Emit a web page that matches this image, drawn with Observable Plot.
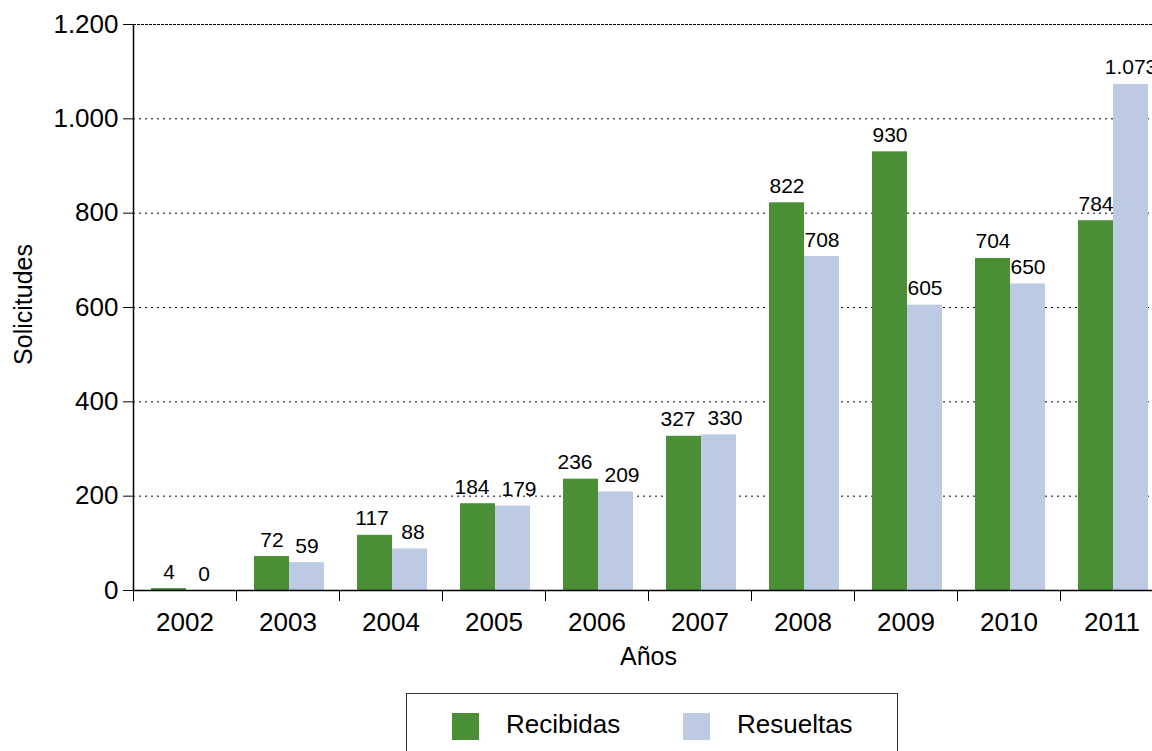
<!DOCTYPE html>
<html>
<head>
<meta charset="utf-8">
<script src="https://cdn.jsdelivr.net/npm/d3@7"></script>
<script src="https://cdn.jsdelivr.net/npm/@observablehq/plot@0.6"></script>
<style>
  html, body { margin: 0; padding: 0; background: #fff; overflow: hidden; width: 1152px; height: 751px; }
  body { font-family: "Liberation Sans", Arial, Helvetica, sans-serif; }
  #wrap { position: relative; width: 1152px; height: 751px; overflow: hidden; }
  #wrap svg { max-width: none !important; }
  #legend { position: absolute; left: 406px; top: 693px; width: 492px; height: 80px; border: 1px solid #333; box-sizing: border-box; }
  .sw { position: absolute; width: 27px; height: 27px; top: 19px; }
  .lt { position: absolute; top: 15px; font-size: 26px; line-height: 30px; color: #000; }
</style>
</head>
<body>
<div id="wrap"></div>
<script>
const years = ["2002","2003","2004","2005","2006","2007","2008","2009","2010","2011"];
const recibidas = [4, 72, 117, 184, 236, 327, 822, 930, 704, 784];
const resueltas = [0, 59, 88, 179, 209, 330, 708, 605, 650, 1073];
const yTicks = [0, 200, 400, 600, 800, 1000, 1200];
const seriesNames = ["Recibidas", "Resueltas"];
const colors = ["#4a8f36", "#bccae4"];

const loc = d3.formatLocale({decimal: ",", thousands: ".", grouping: [3], currency: ["", " €"]});
const fmt = loc.format(",d");

const rec = years.map((y, i) => ({year: y, value: recibidas[i]}));
const res = years.map((y, i) => ({year: y, value: resueltas[i]}));

// simple label collision avoidance: push neighbouring labels apart when they would touch
const labelFont = 21, charW = 0.556 * labelFont, pxPerUnit = 566 / 1200;
const baseDx = [-16, 19];
years.forEach((y, i) => {
  const a = rec[i], b = res[i];
  const wa = fmt(a.value).length * charW, wb = fmt(b.value).length * charW;
  const gap = (baseDx[1] - wb / 2) - (baseDx[0] + wa / 2);
  const vOverlap = Math.abs(a.value - b.value) * pxPerUnit < 22;
  const shift = vOverlap && gap < 12 ? Math.round((12 - gap) / 2) : 0;
  a.dx = baseDx[0] - shift;
  b.dx = baseDx[1] + shift;
});
function labelMarks(data) {
  const groups = d3.group(data, d => d.dx);
  return Array.from(groups, ([dx, rows]) =>
    Plot.text(rows, {x: "year", y: "value", text: d => fmt(d.value), dx, dy: -10, lineAnchor: "bottom", fontSize: labelFont, fill: "#000"}));
}

const chart = Plot.plot({
  width: 1165,
  height: 693,
  marginLeft: 133,
  marginRight: 2,
  marginTop: 24,
  marginBottom: 103,
  style: {fontFamily: "'Liberation Sans', Arial, Helvetica, sans-serif", color: "#000", background: "#fff", overflow: "visible", maxWidth: "none"},
  x: {type: "band", domain: years, padding: 0},
  y: {domain: [0, 1200]},
  marks: [
    Plot.ruleY(yTicks.filter(d => d > 0 && d < 1200), {stroke: "#000", strokeWidth: 1, strokeDasharray: "2,4"}),
    Plot.ruleY([1200], {stroke: "#000", strokeWidth: 1, strokeDasharray: "3,1"}),
    Plot.barY(rec, {x: "year", y: "value", fill: colors[0], insetLeft: 18, insetRight: 50}),
    Plot.barY(res, {x: "year", y: "value", fill: colors[1], insetLeft: 53, insetRight: 15}),
    ...labelMarks(rec),
    ...labelMarks(res),
    Plot.ruleY([0], {stroke: "#000", strokeWidth: 1.5}),
    Plot.ruleX([years[0]], {dx: -51.5, y1: 0, y2: 1200, stroke: "#000", strokeWidth: 1.5}),
    Plot.axisY({ticks: yTicks, tickFormat: fmt, tickSize: 10, tickPadding: 5, fontSize: 26, label: null, stroke: "#000"}),
    Plot.axisX({tickSize: 0, tickPadding: 22, fontSize: 26, label: null}),
    Plot.axisX({tickSize: 11, tickFormat: () => "", dx: -51.5, label: null, stroke: "#000"}),
    Plot.text(["Solicitudes"], {frameAnchor: "left", textAnchor: "middle", rotate: -90, dx: -110, dy: -3, fontSize: 25, fill: "#000"}),
    Plot.text(["Años"], {frameAnchor: "bottom", dy: 74, fontSize: 25, fill: "#000"})
  ]
});

const wrap = document.getElementById("wrap");
wrap.appendChild(chart);
const legend = document.createElement("div");
legend.id = "legend";
const swX = [45, 276];
const txX = [99, 330];
seriesNames.forEach((name, i) => {
  const sw = document.createElement("div");
  sw.className = "sw";
  sw.style.left = swX[i] + "px";
  sw.style.background = colors[i];
  legend.appendChild(sw);
  const t = document.createElement("div");
  t.className = "lt";
  t.style.left = txX[i] + "px";
  t.textContent = name;
  legend.appendChild(t);
});
wrap.appendChild(legend);
</script>
</body>
</html>
